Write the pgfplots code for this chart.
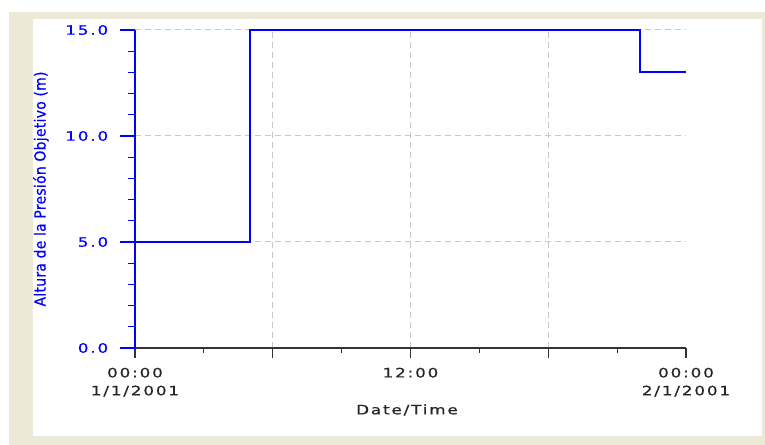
\documentclass[border=0pt]{standalone}
\usepackage{fontspec}
\usepackage{pgfplots}
\pgfplotsset{compat=1.18}
\setmainfont{DejaVu Sans}
\newfontfamily\tickfont[LetterSpace=14,FakeStretch=1.3,FakeBold=0.6]{DejaVu Sans}
\newfontfamily\labfont[LetterSpace=2,FakeBold=0.6]{DejaVu Sans Condensed}
\definecolor{framec}{RGB}{236,233,216}
\definecolor{pblue}{RGB}{0,0,255}
\definecolor{gridc}{RGB}{200,200,200}
\begin{document}
\begin{tikzpicture}[x=1bp,y=1bp]
\fill[white] (0,0) rectangle (765,445);
\fill[framec] (9,0) rectangle (765,433);
\fill[white] (33,9) rectangle (762,426);
\begin{axis}[at={(135bp,97bp)}, anchor=south west, scale only axis,
  width=551bp, height=318bp,
  xmin=0, xmax=24, ymin=0, ymax=15,
  axis x line*=bottom, axis y line*=left,
  x axis line style={black!80, line width=1.2bp},
  y axis line style={pblue, line width=1.8bp},
  xtick={0,6,12,18}, xticklabels={{00:00\\1/1/2001},{},{12:00},{}},
  extra x ticks={24}, extra x tick labels={{00:00\\2/1/2001}},
  extra x tick style={grid=none},
  minor xtick={3,9,15,21},
  ytick={0,5,10,15}, yticklabels={0.0,5.0,10.0,15.0},
  minor ytick={1,2,3,4,6,7,8,9,11,12,13,14},
  tick align=outside,
  xtick style={black!80, line width=1.2bp, /pgfplots/major tick length=10bp, /pgfplots/minor tick length=5bp},
  ytick style={pblue, line width=1.2bp, /pgfplots/major tick length=15bp, /pgfplots/minor tick length=7bp},
  grid=major,
  major grid style={gridc, line width=1bp, dash pattern=on 6bp off 4bp},
  xticklabel style={align=center, font=\tickfont\fontsize{13}{18}\selectfont, text=black!85, yshift=-12bp},
  yticklabel style={font=\tickfont\fontsize{13}{15}\selectfont, text=pblue, xshift=-19bp},
  xlabel={Date/Time},
  xlabel style={at={(axis description cs:0.4936,-0.195)}, anchor=center, font=\tickfont\fontsize{13}{15}\selectfont, text=black!85},
  ylabel={Altura de la Presión Objetivo (m)},
  ylabel style={at={(axis description cs:-0.1706,0.5)}, anchor=center, font=\labfont\fontsize{15.5}{18}\selectfont, text=pblue},
]
\addplot[const plot, pblue, line width=1.8bp] coordinates {(0,5) (5,5) (5,15) (22,15) (22,13) (24,13)};
\end{axis}
\pgfresetboundingbox
\useasboundingbox (0,0) rectangle (765,445);
\end{tikzpicture}
\end{document}
